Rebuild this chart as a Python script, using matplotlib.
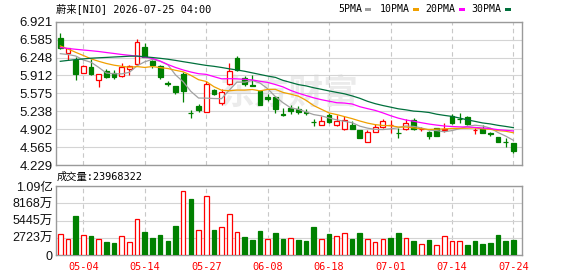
import numpy as np
import pandas as pd
import matplotlib
matplotlib.use('Agg')
import matplotlib.pyplot as plt
from matplotlib.patches import Rectangle

# trading days shown (2026)
dates = ['04-29', '04-30', '05-01', '05-04', '05-05', '05-06', '05-07', '05-08', '05-11', '05-12',
         '05-13', '05-14', '05-15', '05-18', '05-19', '05-20', '05-21', '05-22', '05-26', '05-27',
         '05-28', '05-29', '06-01', '06-02', '06-03', '06-04', '06-05', '06-08', '06-09', '06-10',
         '06-11', '06-12', '06-15', '06-16', '06-17', '06-18', '06-22', '06-23', '06-24', '06-25',
         '06-26', '06-29', '06-30', '07-01', '07-02', '07-06', '07-07', '07-08', '07-09', '07-10',
         '07-13', '07-14', '07-15', '07-16', '07-17', '07-20', '07-21', '07-22', '07-23', '07-24']

opens = [6.62, 6.339, 6.201, 5.963, 6.076, 5.826, 5.989, 5.963, 5.901, 6.027,
         6.121, 6.44, 6.188, 6.094, 5.765, 5.713, 5.944, 5.205, 5.343, 5.219,
         5.638, 5.394, 5.751, 6.248, 5.854, 5.74, 5.61, 5.507, 5.507, 5.18,
         5.30, 5.29, 5.22, 5.035, 4.98, 5.168, 4.98, 4.90, 4.98, 4.886,
         4.667, 4.855, 4.937, 4.975, 4.83, 4.90, 5.07, 4.905, 4.855, 4.92,
         4.895, 5.15, 5.09, 5.137, 4.88, 4.905, 4.825, 4.75, 4.665, 4.637]
highs = [6.714, 6.43, 6.252, 6.108, 6.215, 5.94, 6.027, 6.02, 6.14, 6.10,
         6.596, 6.527, 6.20, 6.108, 5.807, 5.713, 5.98, 5.262, 5.375, 5.807,
         5.65, 5.662, 6.151, 6.286, 5.91, 5.92, 5.63, 5.569, 5.525, 5.30,
         5.35, 5.337, 5.28, 5.09, 5.15, 5.20, 5.168, 5.15, 5.061, 4.886,
         4.886, 4.994, 5.088, 5.074, 4.93, 5.088, 5.106, 4.94, 4.86, 4.93,
         5.013, 5.187, 5.20, 5.15, 4.92, 4.98, 4.855, 4.75, 4.73, 4.64]
lows = [6.40, 6.20, 5.826, 5.948, 5.92, 5.70, 5.858, 5.85, 5.888, 5.92,
        6.10, 6.252, 6.045, 5.839, 5.719, 5.563, 5.413, 5.112, 5.219, 5.219,
        5.55, 5.356, 5.73, 5.995, 5.72, 5.705, 5.347, 5.432, 5.212, 5.15,
        5.19, 5.19, 5.17, 4.96, 4.98, 5.01, 4.962, 4.88, 4.905, 4.73,
        4.66, 4.85, 4.93, 4.83, 4.73, 4.895, 4.89, 4.86, 4.717, 4.78,
        4.855, 4.994, 5.02, 4.98, 4.82, 4.826, 4.78, 4.667, 4.56, 4.46]
closes = [6.42, 6.421, 5.938, 6.089, 5.93, 5.935, 5.888, 5.876, 6.076, 6.08,
          6.545, 6.264, 6.102, 5.888, 5.76, 5.60, 5.613, 5.20, 5.262, 5.751,
          5.563, 5.60, 5.995, 6.023, 5.751, 5.713, 5.365, 5.46, 5.281, 5.175,
          5.235, 5.225, 5.215, 5.03, 5.056, 5.03, 5.056, 5.074, 4.905, 4.73,
          4.843, 4.937, 5.056, 4.98, 4.826, 5.013, 4.90, 4.91, 4.775, 4.78,
          4.90, 5.013, 5.088, 4.994, 4.886, 4.826, 4.82, 4.667, 4.66, 4.492]
# volume in 万 shares
volumes = [3270, 2480, 6150, 3110, 2950, 2480, 2100, 1890, 2950, 2050,
           5630, 3630, 2680, 3160, 2210, 4580, 10050, 8840, 3890, 9260,
           3950, 4370, 6470, 3630, 2840, 2370, 3790, 2480, 3470, 2520,
           2630, 2370, 2210, 4370, 2520, 3310, 2950, 3420, 2520, 3470,
           2520, 2000, 2480, 2680, 3470, 2630, 2210, 1740, 2370, 1530,
           2950, 2210, 2210, 1530, 2210, 1740, 1890, 3160, 2210, 2397]
last_volume = 23968322

# moving-average values before each window is full
ma5_head = [6.320, 6.305, 6.277, 6.202]
ma10_head = [6.465, 6.408, 6.346, 6.286, 6.224, 6.177, 6.136, 6.104, 6.083]
ma20_head = [6.436, 6.418, 6.403, 6.389, 6.376, 6.361, 6.342, 6.324, 6.305, 6.290,
             6.273, 6.254, 6.230, 6.183, 6.117, 6.061, 6.014, 5.976, 5.944]
ma30_head = [6.177, 6.194, 6.209, 6.222, 6.235, 6.243, 6.250, 6.258, 6.265, 6.273,
             6.275, 6.262, 6.248, 6.233, 6.216, 6.194, 6.170, 6.147, 6.123, 6.100,
             6.083, 6.061, 6.036, 6.014, 5.990, 5.960, 5.930, 5.900, 5.875]

ma_names = ['5PMA', '10PMA', '20PMA', '30PMA']
ma_colors = ['#a0a0a0', '#f0a000', '#ff00ff', '#00703c']

price_ticks = [4.229, 4.565, 4.902, 5.238, 5.575, 5.912, 6.248, 6.585, 6.921]
price_labels = ['4.229', '4.565', '4.902', '5.238', '5.575', '5.912', '6.248', '6.585', '6.921']
vol_ticks = [0, 2723, 5445, 8168, 10890]
vol_labels = ['0', '2723万', '5445万', '8168万', '1.09亿']
date_labels = ['05-04', '05-14', '05-27', '06-08', '06-18', '07-01', '07-14', '07-24']

title = '蔚来[NIO] 2026-07-25 04:00'

RED = '#ff0000'
GREEN = '#008000'
GRID = '#d4d4d4'
SPINE = '#9a9a9a'
MONO = ['DejaVu Sans Mono', 'Noto Sans CJK SC']
NUMF = ['Liberation Sans', 'Noto Sans CJK SC']

o = np.array(opens)
h = np.array(highs)
l = np.array(lows)
c = np.array(closes)
x = np.arange(len(c))
up = c >= o

close_s = pd.Series(closes)
def moving_avg(n, head):
    ma = close_s.rolling(n).mean().to_numpy()
    ma[:n - 1] = head
    return ma

mas = [moving_avg(5, ma5_head), moving_avg(10, ma10_head),
       moving_avg(20, ma20_head), moving_avg(30, ma30_head)]

W, H = 578, 276
fig = plt.figure(figsize=(W / 100, H / 100), dpi=100)

def px_axes(left, top, right, bottom):
    return fig.add_axes([left / W, 1 - bottom / H, (right - left) / W, (bottom - top) / H])

ax = px_axes(56, 21.7, 522.3, 165)
axv = px_axes(56, 186, 522.3, 255)

date_pos = [dates.index(d) for d in date_labels]

for a in (ax, axv):
    a.set_xlim(-0.56, 60.16)
    a.set_xticks(date_pos)
    a.grid(axis='x', color='#c8c8c8', lw=0.8, ls=(0, (4, 3)))
    a.grid(axis='y', color=GRID, lw=0.8)
    a.set_axisbelow(True)
    for s in a.spines.values():
        s.set_color(SPINE)
        s.set_linewidth(1)
    a.tick_params(length=0)

# watermark
ax.text(0.5, 0.5, '东方财富', transform=ax.transAxes, ha='center', va='center',
        fontsize=25, color='#ebebeb', family='Noto Sans CJK SC', fontweight='bold', zorder=0)

# candles
colors = np.where(up, RED, GREEN)
ax.vlines(x, l, h, colors=colors, lw=0.9, zorder=2)
body_bottom = np.minimum(o, c)
body_h = np.abs(c - o)
ax.bar(x, body_h, bottom=body_bottom, width=0.62,
       facecolor=np.where(up, 'white', GREEN), edgecolor=colors, lw=0.9, zorder=3)

# moving averages
for ma, col in zip(mas, ma_colors):
    ax.plot(x, ma, color=col, lw=0.9, zorder=4)

ax.set_ylim(price_ticks[0], price_ticks[-1])
ax.set_yticks(price_ticks)
ax.set_yticklabels(price_labels, family=NUMF, fontsize=9.5, color='#111111')
ax.tick_params(axis='y', pad=2.5)
ax.set_xticklabels([])

# volume bars, coloured by change against the previous close
vol_up = np.r_[True, np.diff(c) >= 0]
vcol = np.where(vol_up, RED, GREEN)
axv.bar(x, volumes, width=0.6, facecolor=np.where(vol_up, 'white', GREEN),
        edgecolor=vcol, lw=0.9, zorder=3)
axv.set_ylim(0, vol_ticks[-1])
axv.set_yticks(vol_ticks)
axv.set_yticklabels(vol_labels, family=NUMF, fontsize=9, color='#111111')
axv.tick_params(axis='y', pad=2.5)
axv.set_xticklabels(date_labels, family=MONO, fontsize=7.4, color=RED)
axv.tick_params(axis='x', pad=5)

# header texts
fig.text(56 / W, 1 - 9 / H, title, family=MONO, fontsize=7.4, ha='left', va='center')
fig.text(57 / W, 1 - 177 / H, '成交量:' + str(last_volume), family=MONO, fontsize=7.4,
         ha='left', va='center')

# legend
leg_text_x = [338.3, 380, 425.7, 471.7]
leg_mark_x = [365, 412.7, 459.3, 505]
for name, col, tx, mx in zip(ma_names, ma_colors, leg_text_x, leg_mark_x):
    fig.text(tx / W, 1 - 9.3 / H, name, family=MONO, fontsize=7.1, ha='left', va='center')
    fig.add_artist(Rectangle((mx / W, 1 - 10.5 / H), 6 / W, 2.2 / H, transform=fig.transFigure,
                             facecolor=col, edgecolor='none'))

fig.savefig('out.png', dpi=100)
